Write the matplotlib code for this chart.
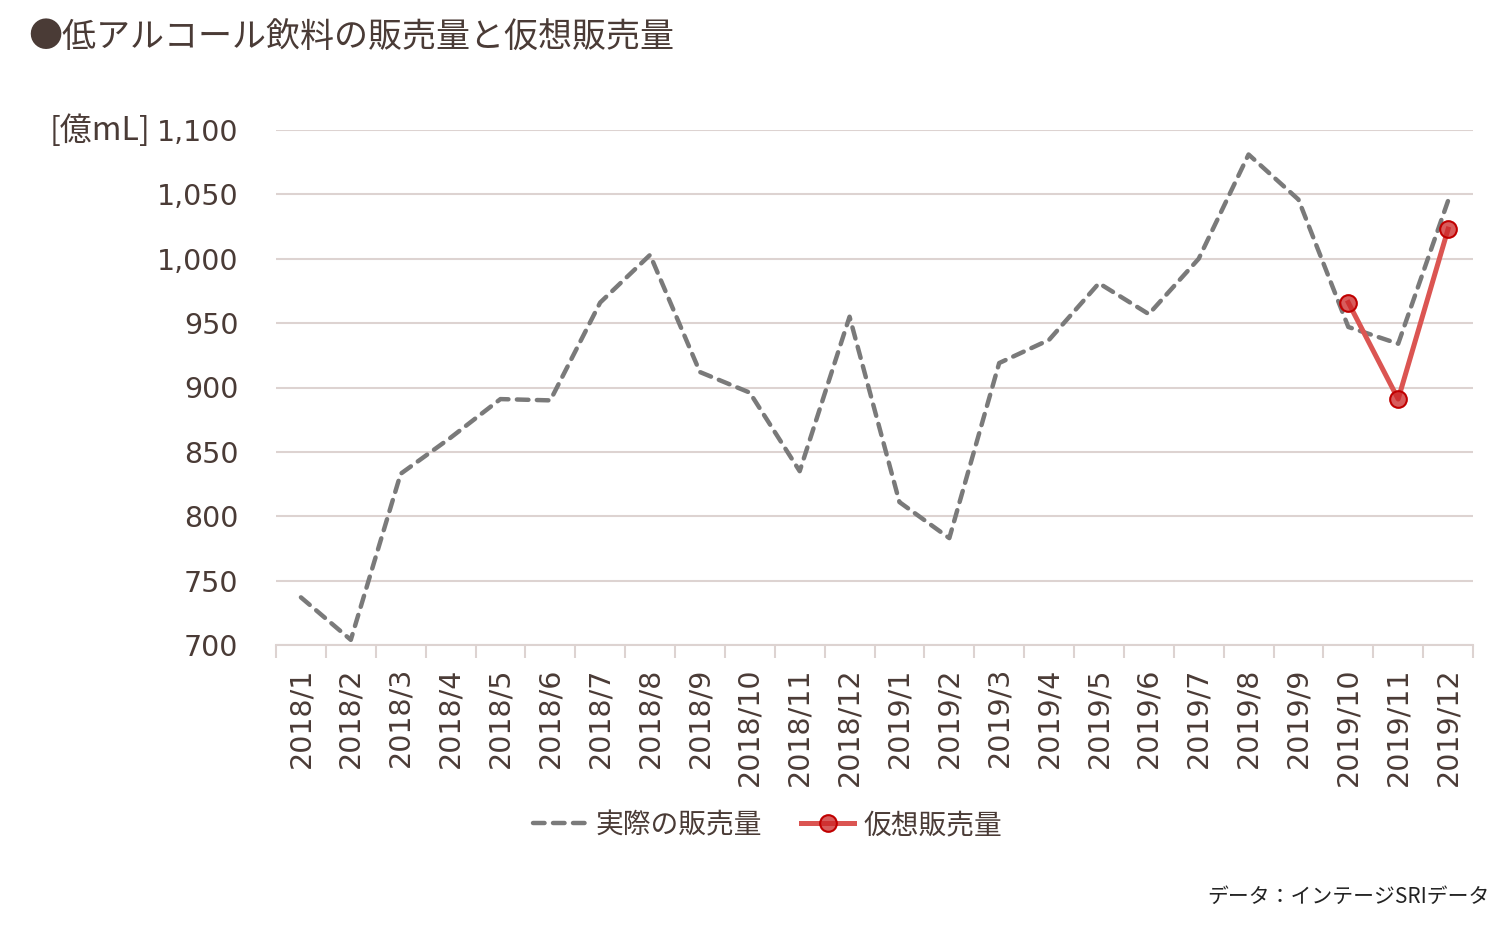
import matplotlib
matplotlib.use("Agg")
import matplotlib.pyplot as plt
import numpy as np

# data
months = ["2018/1", "2018/2", "2018/3", "2018/4", "2018/5", "2018/6",
          "2018/7", "2018/8", "2018/9", "2018/10", "2018/11", "2018/12",
          "2019/1", "2019/2", "2019/3", "2019/4", "2019/5", "2019/6",
          "2019/7", "2019/8", "2019/9", "2019/10", "2019/11", "2019/12"]
actual = [737, 704, 833, 861, 891, 890, 966, 1003, 912, 896, 835, 955,
          811, 783, 919, 937, 981, 957, 1000, 1081, 1046, 947, 934, 1045]
virtual_months = ["2019/10", "2019/11", "2019/12"]
virtual = [966, 891, 1023]
yticks = [700, 750, 800, 850, 900, 950, 1000, 1050, 1100]

text_col = "#4a3b36"
grid_col = "#ddd3d1"
jp = ["Noto Sans CJK JP", "DejaVu Sans"]

fig = plt.figure(figsize=(15.07, 9.26), dpi=100)
ax = fig.add_axes([276 / 1507, 1 - 645 / 926, (1473 - 276) / 1507, (645 - 130) / 926])

x = np.arange(len(months))
xv = [months.index(m) for m in virtual_months]

ax.plot(x, actual, color="#7a7a7a", lw=3.2, linestyle=(0, (2.6, 1.9)),
        dash_capstyle="round", label="実際の販売量", zorder=3)
ax.plot(xv, virtual, color="#db5552", lw=3.6, marker="o", ms=12,
        mfc=(0.80, 0.15, 0.15, 0.75), mec="#c00000", mew=1.5,
        label="仮想販売量", zorder=4)

ax.set_xlim(-0.5, len(months) - 0.5)
ax.set_ylim(700, 1100)
ax.set_yticks(yticks)
ax.set_yticklabels([f"{v:,}" for v in yticks])
ax.tick_params(axis="y", length=0, pad=27)
ax.grid(axis="y", color=grid_col, lw=1.5)
ax.set_axisbelow(True)

ax.set_xticks(x)
ax.set_xticklabels(months, rotation=90)
ax.set_xticks(np.arange(len(months) + 1) - 0.5, minor=True)
ax.tick_params(axis="x", which="major", length=0, pad=16)
ax.tick_params(axis="x", which="minor", length=9, width=1.5, color=grid_col)

for t in ax.get_xticklabels() + ax.get_yticklabels():
    t.set_fontfamily("DejaVu Sans")
    t.set_fontsize(20.5)
    t.set_color(text_col)

for s in ["top", "right", "left"]:
    ax.spines[s].set_visible(False)
ax.spines["bottom"].set_color(grid_col)
ax.spines["bottom"].set_linewidth(1.5)

fig.text(50 / 1507, 1 - 131 / 926, "[億mL]", family=jp, fontsize=23,
         color=text_col, ha="left", va="center")

fig.text(28 / 1507, 1 - 38 / 926, "●低アルコール飲料の販売量と仮想販売量", family=jp,
         fontsize=24.5, color=text_col, ha="left", va="center")

leg = fig.legend(loc="center", bbox_to_anchor=(768 / 1507, 1 - 825 / 926), ncol=2,
                 frameon=False, prop={"family": jp, "size": 20}, handlelength=1.9,
                 columnspacing=1.4, handletextpad=0.35)
for t in leg.get_texts():
    t.set_color(text_col)

fig.text(1490 / 1507, 1 - 897 / 926, "データ：インテージSRIデータ", family=jp,
         fontsize=15, color="#222222", ha="right", va="center")

fig.savefig("out.png", dpi=100, facecolor="white")
